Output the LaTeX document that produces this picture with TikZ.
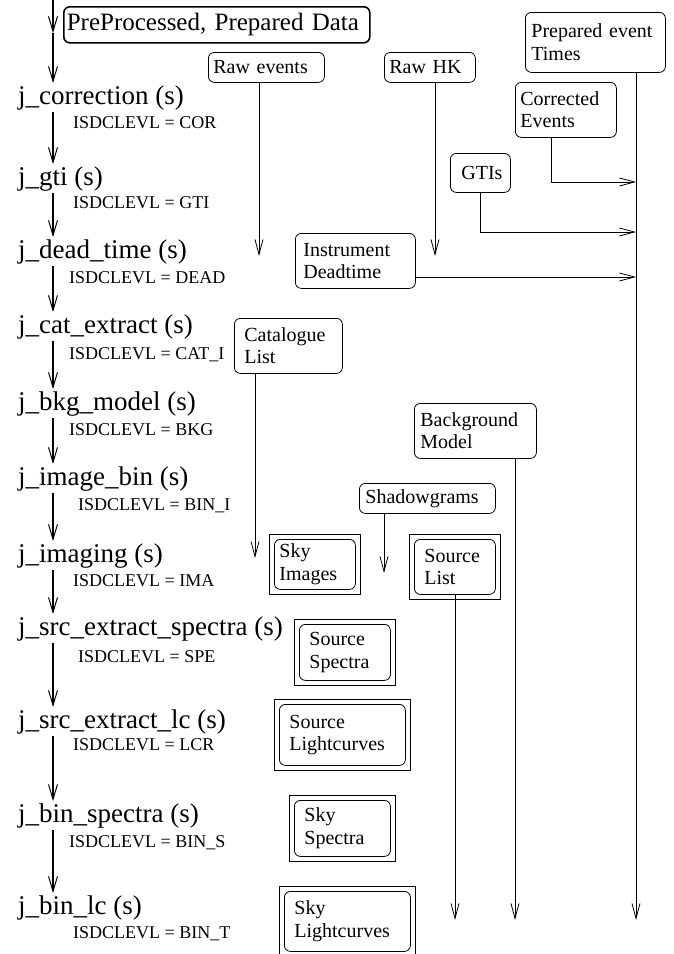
\documentclass[tikz,border=0pt]{standalone}
\usepackage{fontspec}
\setmainfont{Liberation Serif}
\usetikzlibrary{arrows.meta}

\tikzset{
	prog/.style={anchor=base west, inner sep=2pt, font=\fontsize{27}{30}\selectfont},
	lvl/.style={anchor=base west, inner sep=0pt, font=\fontsize{18}{20}\selectfont},
	rbox/.style={draw, rounded corners=6pt, anchor=north west, align=left, inner xsep=5pt, inner ysep=0pt, line width=0.8pt, font=\fontsize{20}{22.5}\selectfont},
	dbox/.style={rbox, inner xsep=10pt},
	flow/.style={line width=1.6pt, -{Straight Barb[length=15pt,width=9pt,line width=1pt]}},
	feed/.style={line width=0.8pt, -{Straight Barb[length=15pt,width=8pt]}},
}

\begin{document}
\begin{tikzpicture}[x=1pt,y=-1pt]
	
	\useasboundingbox (0,0) rectangle (674,954);
	
	% processing steps
	\node[prog] (cor) at (16,104) {j\_correction (s)};
	\node[prog] (gti) at (16,185) {j\_gti (s)};
	\node[prog] (dead) at (16,258) {j\_dead\_time (s)};
	\node[prog] (cat) at (16,333) {j\_cat\_extract (s)};
	\node[prog] (bkg) at (16,410) {j\_bkg\_model (s)};
	\node[prog] (ibin) at (16,485) {j\_image\_bin (s)};
	\node[prog] (ima) at (16,562) {j\_imaging (s)};
	\node[prog] (spe) at (16,635) {j\_src\_extract\_spectra (s)};
	\node[prog] (lcr) at (16,728) {j\_src\_extract\_lc (s)};
	\node[prog] (bins) at (16,822) {j\_bin\_spectra (s)};
	\node[prog] (bint) at (16,914) {j\_bin\_lc (s)};
	
	\node[lvl] (corlvl) at (73,128) {ISDCLEVL = COR};
	\node[lvl] (gtilvl) at (73,208) {ISDCLEVL = GTI};
	\node[lvl] (deadlvl) at (69,283) {ISDCLEVL = DEAD};
	\node[lvl] (catlvl) at (69,359) {ISDCLEVL = CAT\_I};
	\node[lvl] (bkglvl) at (69,435) {ISDCLEVL = BKG};
	\node[lvl] (ibinlvl) at (78,510) {ISDCLEVL = BIN\_I};
	\node[lvl] (imalvl) at (73,586) {ISDCLEVL = IMA};
	\node[lvl] (spelvl) at (78,662) {ISDCLEVL = SPE};
	\node[lvl] (lcrlvl) at (73,750) {ISDCLEVL = LCR};
	\node[lvl] (binslvl) at (69,847) {ISDCLEVL = BIN\_S};
	\node[lvl] (bintlvl) at (73,938) {ISDCLEVL = BIN\_T};
	
	% data products
	\node[rbox, text width=300pt, inner xsep=3pt, minimum height=36pt, line width=1.6pt, font=\fontsize{25}{28}\selectfont] (prep) at (63,6) {PreProcessed, Prepared Data};
	\node[rbox, text width=106pt, minimum height=30pt] (rawev) at (208,52) {Raw events};
	\node[rbox, text width=81pt, minimum height=30pt] (rawhk) at (384,52) {Raw HK};
	\node[rbox, text width=128pt, inner xsep=6pt, minimum height=60pt] (evtimes) at (525,12) {Prepared event\\Times};
	\node[rbox, text width=91pt, minimum height=55pt] (corev) at (515,82) {Corrected\\Events};
	\node[rbox, text width=38pt, inner xsep=11pt, minimum height=39pt] (gtis) at (450,153) {GTIs};
	\node[rbox, text width=104pt, inner xsep=8pt, minimum height=55pt] (deadt) at (295,233) {Instrument\\Deadtime};
	\node[rbox, text width=88pt, inner xsep=10pt, minimum height=55pt] (catlist) at (234,318) {Catalogue\\List};
	\node[rbox, text width=110pt, inner xsep=6pt, minimum height=55pt] (bkgmod) at (414,403) {Background\\Model};
	\node[rbox, text width=124pt, inner xsep=6pt, minimum height=30pt] (shadow) at (359,483) {Shadowgrams};
	
	\node[dbox, text width=71pt, inner xsep=5pt, minimum height=50pt] (skyima) at (274,539) {Sky\\Images};
	\node[dbox, text width=61pt, minimum height=55pt] (srclist) at (414,539) {Source\\List};
	\node[dbox, text width=71pt, minimum height=56pt] (srcspe) at (299,624) {Source\\Spectra};
	\node[dbox, text width=106pt, minimum height=61pt] (srclc) at (279,704) {Source\\Lightcurves};
	\node[dbox, text width=76pt, minimum height=56pt] (skyspe) at (294,800) {Sky\\Spectra};
	\node[dbox, text width=106pt, minimum height=60pt] (skylc) at (284,891) {Sky\\Lightcurves};
	
	\foreach \n in {skyima,srclist,srcspe,srclc,skyspe,skylc}
		\draw[line width=0.8pt] ([shift={(-5pt,5pt)}]\n.north west) rectangle ([shift={(5pt,-5pt)}]\n.south east);
	
	% main chain
	\coordinate (spine) at (53,0);
	\coordinate (entry) at (53,33);
	\draw[flow] (spine) -- (entry);
	\draw[flow] (entry) -- (cor.north -| spine);
	\draw[flow] (cor.south -| spine) -- (gti.north -| spine);
	\draw[flow] (gti.south -| spine) -- (dead.north -| spine);
	\draw[flow] (dead.south -| spine) -- (cat.north -| spine);
	\draw[flow] (cat.south -| spine) -- (bkg.north -| spine);
	\draw[flow] (bkg.south -| spine) -- (ibin.north -| spine);
	\draw[flow] (ibin.south -| spine) -- (ima.north -| spine);
	\draw[flow] (ima.south -| spine) -- (spe.north -| spine);
	\draw[flow] (spe.south -| spine) -- (lcr.north -| spine);
	\draw[flow] (lcr.south -| spine) -- (bins.north -| spine);
	\draw[flow] (bins.south -| spine) -- (bint.north -| spine);
	
	% data feeds
	\coordinate (rawevEnd) at (259,256);
	\coordinate (rawhkEnd) at (435,256);
	\coordinate (timesEnd) at (636,920);
	\coordinate (corevTurn) at (551,182);
	\coordinate (corevEnd) at (636,182);
	\coordinate (gtisEnd) at (636,232);
	\coordinate (deadEnd) at (636,277);
	\coordinate (catEnd) at (255,558);
	\coordinate (shadowEnd) at (384,573);
	\coordinate (bkgEnd) at (515,920);
	\coordinate (srclistEnd) at (455,920);
	
	\draw[feed] (rawev.south -| rawevEnd) -- (rawevEnd);
	\draw[feed] (rawhk.south -| rawhkEnd) -- (rawhkEnd);
	\draw[feed] (evtimes.south -| timesEnd) -- (timesEnd);
	\draw[feed] (corev.south -| corevTurn) -- (corevTurn) -- (corevEnd);
	\draw[feed] (gtis.south) |- (gtisEnd);
	\draw[feed] (deadEnd -| deadt.east) -- (deadEnd);
	\draw[feed] (catlist.south -| catEnd) -- (catEnd);
	\draw[feed] (shadow.south -| shadowEnd) -- (shadowEnd);
	\draw[feed] (bkgmod.south -| bkgEnd) -- (bkgEnd);
	\draw[feed] (srclist.south -| srclistEnd) -- (srclistEnd);
	
\end{tikzpicture}
\end{document}
